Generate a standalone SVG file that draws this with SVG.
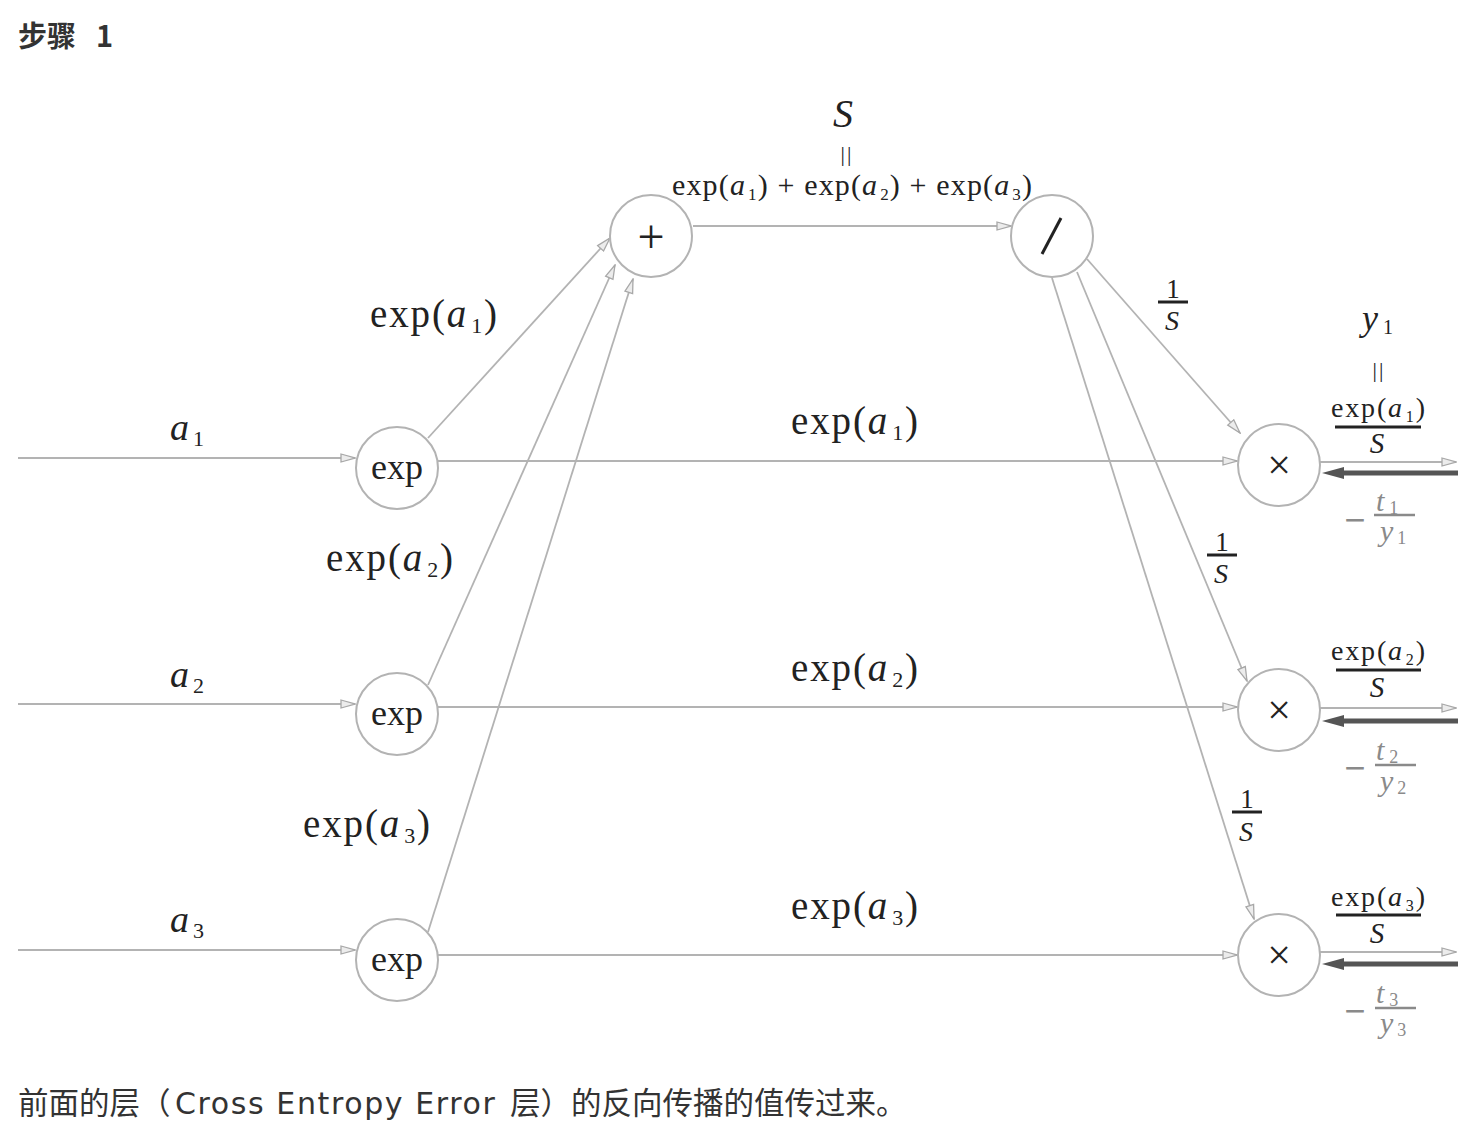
<svg xmlns="http://www.w3.org/2000/svg" width="1482" height="1128" viewBox="0 0 1482 1128">
<style>
.ln{stroke:#b3b3b3;stroke-width:1.8;fill:none;marker-end:url(#ah)}
.thick{stroke:#555;stroke-width:5;fill:none;marker-end:url(#dh)}
.nd{fill:#fff;stroke:#b3b3b3;stroke-width:2}
.m{font-family:"Liberation Serif","DejaVu Serif",serif;fill:#222}
.i{font-style:italic}
.g{fill:#8a8a8a}
.mn{font-family:"DejaVu Sans",sans-serif;fill:#8a8a8a}
.bar{stroke:#222;stroke-width:3}
.gbar{stroke:#8a8a8a;stroke-width:2.5}
.cjk{font-family:"Noto Sans CJK SC","Noto Sans",sans-serif;fill:#333}
.lat{font-family:"DejaVu Sans","Noto Sans",sans-serif}
</style>
<defs>
<marker id="ah" markerUnits="userSpaceOnUse" markerWidth="16" markerHeight="12" viewBox="0 0 16 12" refX="15" refY="6" orient="auto">
<path d="M1,2 L15,6 L1,10 Z" fill="#ececec" stroke="#a8a8a8" stroke-width="1.3"/>
</marker>
<marker id="dh" markerUnits="userSpaceOnUse" markerWidth="22" markerHeight="14" viewBox="0 0 22 14" refX="2" refY="7" orient="auto">
<path d="M0,1 L22,7 L0,13 Z" fill="#555"/>
</marker>
</defs>
<rect width="1482" height="1128" fill="#fff"/>

<text class="cjk" x="18" y="47" font-size="29" font-weight="bold">步骤<tspan x="96">1</tspan></text>

<g id="connectors">
<line class="ln" x1="18" y1="458" x2="355" y2="458"/>
<line class="ln" x1="18" y1="704" x2="355" y2="704"/>
<line class="ln" x1="18" y1="950" x2="355" y2="950"/>
<line class="ln" x1="438" y1="461" x2="1237" y2="461"/>
<line class="ln" x1="438" y1="707" x2="1237" y2="707"/>
<line class="ln" x1="438" y1="955" x2="1237" y2="955"/>
<line class="ln" x1="428" y1="438" x2="610" y2="238"/>
<line class="ln" x1="428" y1="685" x2="615" y2="265"/>
<line class="ln" x1="428" y1="932" x2="633" y2="279"/>
<line class="ln" x1="693" y1="226" x2="1011" y2="226"/>
<line class="ln" x1="1087" y1="259" x2="1240" y2="433"/>
<line class="ln" x1="1077" y1="272" x2="1247" y2="681"/>
<line class="ln" x1="1052" y1="278" x2="1254" y2="919"/>
<line class="ln" x1="1320" y1="462" x2="1456" y2="462"/>
<line class="ln" x1="1320" y1="708" x2="1456" y2="708"/>
<line class="ln" x1="1320" y1="952" x2="1456" y2="952"/>
<line class="thick" x1="1458" y1="473" x2="1342" y2="473"/>
<line class="thick" x1="1458" y1="721" x2="1342" y2="721"/>
<line class="thick" x1="1458" y1="964" x2="1342" y2="964"/>
</g>

<g id="node-exp1"><circle class="nd" cx="397" cy="468" r="41"/><text class="m" x="397" y="479" font-size="36" text-anchor="middle">exp</text></g>
<g id="node-exp2"><circle class="nd" cx="397" cy="714" r="41"/><text class="m" x="397" y="725" font-size="36" text-anchor="middle">exp</text></g>
<g id="node-exp3"><circle class="nd" cx="397" cy="960" r="41"/><text class="m" x="397" y="971" font-size="36" text-anchor="middle">exp</text></g>
<g id="node-plus"><circle class="nd" cx="651" cy="236" r="41"/><text class="m" x="651" y="253" font-size="48" text-anchor="middle">+</text></g>
<g id="node-div"><circle class="nd" cx="1052" cy="236" r="41"/><line x1="1042" y1="254" x2="1061" y2="218" stroke="#222" stroke-width="3"/></g>
<g id="node-mul1"><circle class="nd" cx="1279" cy="465" r="41"/><text class="m" x="1279" y="479" font-size="42" text-anchor="middle">×</text></g>
<g id="node-mul2"><circle class="nd" cx="1279" cy="710" r="41"/><text class="m" x="1279" y="724" font-size="42" text-anchor="middle">×</text></g>
<g id="node-mul3"><circle class="nd" cx="1279" cy="955" r="41"/><text class="m" x="1279" y="969" font-size="42" text-anchor="middle">×</text></g>

<g id="labels">
<text class="m i" x="843" y="127" font-size="40" text-anchor="middle">S</text>
<text class="m" x="847" y="161" font-size="22" text-anchor="middle" fill="#444" letter-spacing="2">||</text>
<text class="m" x="672" y="195" font-size="30" textLength="360">exp(<tspan class="i">a</tspan><tspan font-size="17" dx="2" dy="5">1</tspan><tspan dy="-5">) + exp(</tspan><tspan class="i">a</tspan><tspan font-size="17" dx="2" dy="5">2</tspan><tspan dy="-5">) + exp(</tspan><tspan class="i">a</tspan><tspan font-size="17" dx="2" dy="5">3</tspan><tspan dy="-5">)</tspan></text>

<text class="m" x="170" y="440" font-size="38"><tspan class="i">a</tspan><tspan font-size="22" dx="4" dy="6">1</tspan></text>
<text class="m" x="170" y="687" font-size="38"><tspan class="i">a</tspan><tspan font-size="22" dx="4" dy="6">2</tspan></text>
<text class="m" x="170" y="932" font-size="38"><tspan class="i">a</tspan><tspan font-size="22" dx="4" dy="6">3</tspan></text>

<text class="m" x="370" y="327" font-size="39" textLength="127">exp(<tspan class="i">a</tspan><tspan font-size="22" dx="3" dy="6">1</tspan><tspan dy="-6">)</tspan></text>
<text class="m" x="326" y="571" font-size="39" textLength="127">exp(<tspan class="i">a</tspan><tspan font-size="22" dx="3" dy="6">2</tspan><tspan dy="-6">)</tspan></text>
<text class="m" x="303" y="837" font-size="39" textLength="127">exp(<tspan class="i">a</tspan><tspan font-size="22" dx="3" dy="6">3</tspan><tspan dy="-6">)</tspan></text>

<text class="m" x="791" y="434" font-size="39" textLength="127">exp(<tspan class="i">a</tspan><tspan font-size="22" dx="3" dy="6">1</tspan><tspan dy="-6">)</tspan></text>
<text class="m" x="791" y="681" font-size="39" textLength="127">exp(<tspan class="i">a</tspan><tspan font-size="22" dx="3" dy="6">2</tspan><tspan dy="-6">)</tspan></text>
<text class="m" x="791" y="919" font-size="39" textLength="127">exp(<tspan class="i">a</tspan><tspan font-size="22" dx="3" dy="6">3</tspan><tspan dy="-6">)</tspan></text>

<text class="m" x="1173" y="298" font-size="27" text-anchor="middle">1</text>
<line class="bar" x1="1158" y1="302" x2="1188" y2="302" stroke-width="2.5"/>
<text class="m i" x="1172" y="330" font-size="28" text-anchor="middle">S</text>

<text class="m" x="1222" y="551" font-size="27" text-anchor="middle">1</text>
<line class="bar" x1="1207" y1="555" x2="1237" y2="555" stroke-width="2.5"/>
<text class="m i" x="1221" y="583" font-size="28" text-anchor="middle">S</text>

<text class="m" x="1247" y="808" font-size="27" text-anchor="middle">1</text>
<line class="bar" x1="1232" y1="812" x2="1262" y2="812" stroke-width="2.5"/>
<text class="m i" x="1246" y="841" font-size="28" text-anchor="middle">S</text>

<text class="m" x="1362" y="330" font-size="36"><tspan class="i">y</tspan><tspan font-size="20" dx="5" dy="4">1</tspan></text>
<text class="m" x="1379" y="377" font-size="22" text-anchor="middle" fill="#444" letter-spacing="2">||</text>

<text class="m" x="1331" y="417" font-size="28" textLength="94">exp(<tspan class="i">a</tspan><tspan font-size="16" dx="2" dy="5">1</tspan><tspan dy="-5">)</tspan></text>
<line class="bar" x1="1335" y1="427" x2="1421" y2="427"/>
<text class="m i" x="1377" y="453" font-size="29" text-anchor="middle">S</text>

<text class="m" x="1331" y="660" font-size="28" textLength="94">exp(<tspan class="i">a</tspan><tspan font-size="16" dx="2" dy="5">2</tspan><tspan dy="-5">)</tspan></text>
<line class="bar" x1="1336" y1="670" x2="1421" y2="670"/>
<text class="m i" x="1377" y="697" font-size="29" text-anchor="middle">S</text>

<text class="m" x="1331" y="906" font-size="28" textLength="94">exp(<tspan class="i">a</tspan><tspan font-size="16" dx="2" dy="5">3</tspan><tspan dy="-5">)</tspan></text>
<line class="bar" x1="1336" y1="915" x2="1421" y2="915"/>
<text class="m i" x="1377" y="943" font-size="29" text-anchor="middle">S</text>

<text class="mn" x="1355" y="529" font-size="28" text-anchor="middle">−</text>
<text class="m g" x="1376" y="511" font-size="30"><tspan class="i">t</tspan><tspan font-size="18" dx="5" dy="3">1</tspan></text>
<line class="gbar" x1="1374" y1="515" x2="1415" y2="515"/>
<text class="m g" x="1380" y="541" font-size="30"><tspan class="i">y</tspan><tspan font-size="18" dx="4" dy="3">1</tspan></text>

<text class="mn" x="1355" y="777" font-size="28" text-anchor="middle">−</text>
<text class="m g" x="1376" y="760" font-size="30"><tspan class="i">t</tspan><tspan font-size="18" dx="5" dy="3">2</tspan></text>
<line class="gbar" x1="1375" y1="765" x2="1416" y2="765"/>
<text class="m g" x="1380" y="791" font-size="30"><tspan class="i">y</tspan><tspan font-size="18" dx="4" dy="3">2</tspan></text>

<text class="mn" x="1355" y="1020" font-size="28" text-anchor="middle">−</text>
<text class="m g" x="1376" y="1003" font-size="30"><tspan class="i">t</tspan><tspan font-size="18" dx="5" dy="3">3</tspan></text>
<line class="gbar" x1="1375" y1="1008" x2="1416" y2="1008"/>
<text class="m g" x="1380" y="1033" font-size="30"><tspan class="i">y</tspan><tspan font-size="18" dx="4" dy="3">3</tspan></text>
</g>

<text class="cjk" x="18" y="1114" font-size="30.5">前面的层（<tspan class="lat" x="175" font-size="30" letter-spacing="1.6">Cross Entropy Error</tspan><tspan x="510">层）的反向传播的值传过来。</tspan></text>
</svg>
